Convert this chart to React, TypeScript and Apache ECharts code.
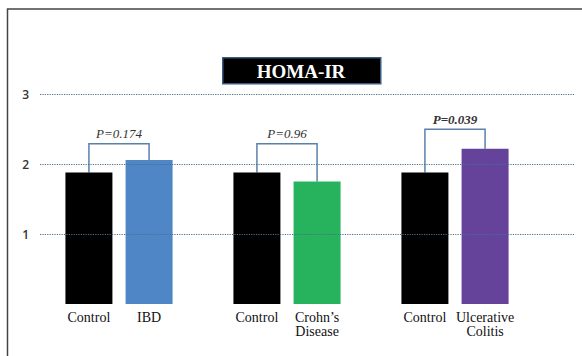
import React, { useEffect, useRef } from "react";
import * as echarts from "echarts";

const groups = ["IBD", "Crohn's Disease", "Ulcerative Colitis"];
const controlLabel = "Control";
const controlValues = [1.88, 1.88, 1.88];
const diseaseLabels = ["IBD", "Crohn’s\nDisease", "Ulcerative\nColitis"];
const diseaseValues = [2.06, 1.75, 2.22];
const diseaseColors = ["#4f86c6", "#27b35e", "#65439a"];
const bracketLevels = [2.29, 2.29, 2.5];
const pLabels = ["P=0.174", "P=0.96", "P=0.039"];
const pBold = [false, false, true];
const yTicks = [1, 2, 3];
const yMax = 3.36;
const title = "HOMA-IR";

const BAR_W = 47;
const BAR_GAP = 0.28;

export default function App() {
  const ref = useRef<HTMLDivElement>(null);
  useEffect(() => {
    const chart = echarts.init(ref.current!, null, { renderer: "svg" });
    const labelFont = {
      fontFamily: "Liberation Serif",
      fontSize: 14,
      color: "#111",
      lineHeight: 14,
    };
    const axisLine = {
      show: true,
      lineStyle: {
        color: "#000",
        width: 2.5,
        shadowColor: "rgba(0,0,0,0.35)",
        shadowBlur: 2,
        shadowOffsetY: 1.5,
        shadowOffsetX: 1,
      },
    };
    chart.setOption({
      animation: false,
      backgroundColor: "#fff",
      grid: [
        { left: 40, right: 7, top: 69, bottom: 52 },
        { left: 35, right: 43, top: 69, bottom: 52 },
      ],
      xAxis: [
        {
          gridIndex: 0,
          type: "value",
          min: 0,
          max: 1,
          axisLine,
          axisTick: { show: false },
          axisLabel: { show: false },
          splitLine: { show: false },
        },
        { gridIndex: 1, type: "category", data: groups, show: false },
      ],
      yAxis: [
        {
          gridIndex: 0,
          type: "value",
          min: 0,
          max: yMax,
          interval: 1,
          axisLine,
          axisTick: { show: false },
          splitLine: { show: false },
          axisLabel: {
            margin: 11,
            fontFamily: "Open Sans",
            fontWeight: 600,
            fontSize: 12,
            color: "#333",
            formatter: (v: number) => (yTicks.indexOf(v) >= 0 ? String(v) : ""),
          },
        },
        { gridIndex: 1, type: "value", min: 0, max: yMax, show: false },
      ],
      series: [
        {
          type: "line",
          xAxisIndex: 0,
          yAxisIndex: 0,
          data: [],
          silent: true,
          markLine: {
            silent: true,
            symbol: "none",
            label: { show: false },
            lineStyle: { type: [1.2, 1.2], color: "#4d6d8e", width: 1 },
            data: yTicks.map((t) => ({ yAxis: t })),
          },
        },
        {
          type: "bar",
          name: controlLabel,
          xAxisIndex: 1,
          yAxisIndex: 1,
          data: controlValues,
          barWidth: BAR_W,
          barGap: BAR_GAP * 100 + "%",
          itemStyle: { color: "#000" },
          label: {
            show: true,
            position: "bottom",
            distance: 6,
            formatter: () => controlLabel,
            ...labelFont,
          },
        },
        {
          type: "bar",
          name: "Disease",
          xAxisIndex: 1,
          yAxisIndex: 1,
          data: diseaseValues.map((v, i) => ({
            value: v,
            itemStyle: { color: diseaseColors[i] },
          })),
          barWidth: BAR_W,
          label: {
            show: true,
            position: "bottom",
            distance: 6,
            formatter: (p: any) => diseaseLabels[p.dataIndex],
            ...labelFont,
          },
        },
        {
          type: "custom",
          xAxisIndex: 1,
          yAxisIndex: 1,
          clip: false,
          silent: true,
          data: bracketLevels.map((v, i) => [i, v]),
          encode: { x: 0, y: 1 },
          renderItem: (params: any, api: any) => {
            const i = params.dataIndex;
            const cx = api.coord([i, 0])[0];
            const off = (BAR_W + BAR_W * BAR_GAP) / 2;
            const xl = cx - off;
            const xr = cx + off;
            const yl = api.coord([i, controlValues[i]])[1];
            const yr = api.coord([i, diseaseValues[i]])[1];
            const yb = api.coord([i, bracketLevels[i]])[1];
            return {
              type: "group",
              children: [
                {
                  type: "polyline",
                  shape: {
                    points: [
                      [xl, yl],
                      [xl, yb],
                      [xr, yb],
                      [xr, yr],
                    ],
                  },
                  style: { stroke: "#5b80aa", lineWidth: 1.5, fill: null },
                },
                {
                  type: "text",
                  x: cx,
                  y: yb - 10,
                  style: {
                    text: pLabels[i],
                    textAlign: "center",
                    textVerticalAlign: "middle",
                    fontFamily: "Liberation Serif",
                    fontStyle: "italic",
                    fontWeight: pBold[i] ? "bold" : "normal",
                    fontSize: 13,
                    fill: "#333",
                  },
                },
              ],
            };
          },
        },
      ],
      graphic: [
        {
          type: "rect",
          left: 5,
          top: 6.5,
          shape: { width: 640, height: 420 },
          style: { fill: null, stroke: "#444", lineWidth: 1.5 },
          silent: true,
        },
        {
          type: "rect",
          left: 222,
          top: 57,
          shape: { width: 158, height: 26 },
          style: { fill: "#000", stroke: "#3a5a82", lineWidth: 1.5 },
        },
        {
          type: "text",
          x: 301,
          y: 71,
          style: {
            text: title,
            textAlign: "center",
            textVerticalAlign: "middle",
            fontFamily: "Liberation Serif",
            fontWeight: "bold",
            fontSize: 19,
            fill: "#fff",
          },
        },
      ],
    });
    return () => chart.dispose();
  }, []);
  return (
    <div
      ref={ref}
      style={{ position: "fixed", left: 0, top: 0, width: 582, height: 356 }}
    />
  );
}
